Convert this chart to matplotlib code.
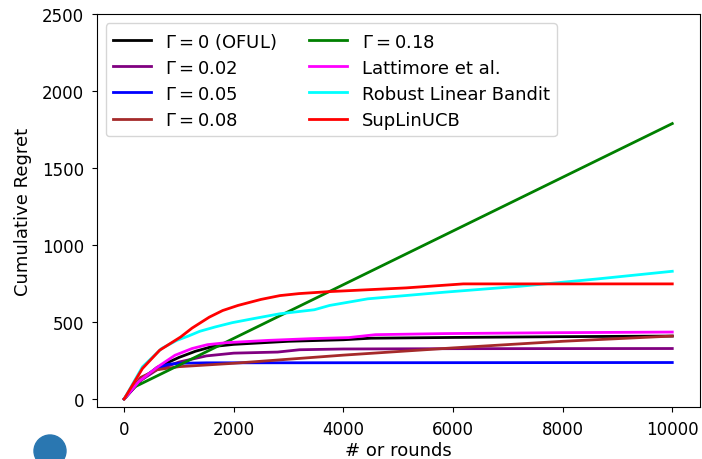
import numpy as np
import matplotlib
matplotlib.use('Agg')
import matplotlib.pyplot as plt
from matplotlib.patches import Ellipse

# readings from the reference (rounds -> cumulative regret)
x_oful = [0, 300, 600, 1000, 1300, 1600, 2000, 2500, 3000, 4000, 4500, 6000, 8000, 10000]
y_oful = [0, 120, 205, 270, 310, 340, 355, 365, 375, 385, 395, 400, 405, 409]

x_g002 = [0, 300, 600, 1000, 1500, 2000, 2800, 3200, 4000, 6000, 10000]
y_g002 = [0, 120, 190, 240, 280, 298, 305, 320, 325, 327, 328]

x_g005 = [0, 300, 600, 800, 1000, 1500, 10000]
y_g005 = [0, 130, 200, 225, 232, 235, 237]

x_g008 = [0, 300, 600, 1000, 2000, 4000, 6000, 8000, 10000]
y_g008 = [0, 140, 190, 210, 232, 285, 332, 375, 409]

x_g018 = [0, 100, 200, 10000]
y_g018 = [0, 50, 80, 1790]

x_latt = [0, 265, 613, 927, 1240, 1519, 1868, 2634, 3401, 4098, 4585, 5840, 7930, 10000]
y_latt = [0, 112, 209, 284, 328, 353, 366, 381, 392, 399, 418, 425, 431, 435]

x_rlb = [0, 334, 683, 962, 1171, 1380, 1659, 1972, 2355, 2843, 3470, 3749, 4446, 5840, 7233, 8627, 10000]
y_rlb = [0, 209, 328, 381, 409, 440, 468, 496, 522, 554, 580, 608, 651, 694, 733, 780, 830]

x_sup = [0, 334, 648, 1031, 1240, 1554, 1798, 2077, 2495, 2843, 3192, 3749, 5143, 6188, 10000]
y_sup = [0, 198, 317, 403, 461, 532, 575, 608, 647, 672, 685, 698, 722, 748, 748]

series = [
    (x_oful, y_oful, 'black', r'$\Gamma = 0$ (OFUL)'),
    (x_g002, y_g002, 'purple', r'$\Gamma = 0.02$'),
    (x_g005, y_g005, 'blue', r'$\Gamma = 0.05$'),
    (x_g008, y_g008, 'brown', r'$\Gamma = 0.08$'),
    (x_g018, y_g018, 'green', r'$\Gamma = 0.18$'),
    (x_latt, y_latt, 'magenta', 'Lattimore et al.'),
    (x_rlb, y_rlb, 'cyan', 'Robust Linear Bandit'),
    (x_sup, y_sup, 'red', 'SupLinUCB'),
]

fig = plt.figure(figsize=(7.02, 4.6), dpi=100)
ax = fig.add_axes([0.1378, 0.1124, 0.8589, 0.8543])

for xs, ys, c, lab in series:
    ax.plot(xs, ys, color=c, lw=2, label=lab)

ax.set_xlim(-500, 10500)
ax.set_ylim(-54, 2500)
ax.set_xticks([0, 2000, 4000, 6000, 8000, 10000])
ax.set_yticks([0, 500, 1000, 1500, 2000, 2500])
ax.tick_params(labelsize=12, pad=5.5)
ax.set_xlabel('# or rounds', fontsize=13, labelpad=2)
ax.set_ylabel('Cumulative Regret', fontsize=13, labelpad=7)
ax.legend(loc='upper left', ncol=2, fontsize=13, labelspacing=0.45,
          handlelength=2.1, columnspacing=1.8)

# blue dot in the lower-left corner of the reference
fig.add_artist(Ellipse((50 / 702, 8 / 460), 32 / 702, 32 / 460,
                       transform=fig.transFigure, color='#2a77b1'))

fig.savefig('out.png', dpi=100)
